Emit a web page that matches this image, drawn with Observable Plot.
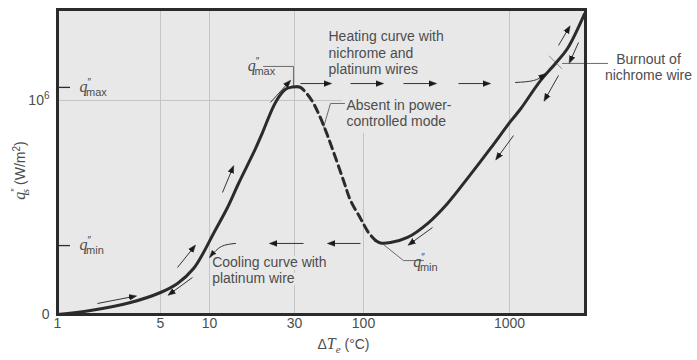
<!DOCTYPE html>
<html><head><meta charset="utf-8">
<script src="https://cdn.jsdelivr.net/npm/d3@7"></script>
<script src="https://cdn.jsdelivr.net/npm/@observablehq/plot@0.6"></script>
<style>
body{margin:0;background:#fff;}
#chart{width:697px;height:360px;}
</style></head><body><div id="chart"></div>
<script>
// ---- data (ΔTe in °C, q'' in units of 10^6 W/m²) ----
const xTicks = [1, 5, 10, 30, 100, 1000];
const xBreaks = [1, 5, 10, 30, 100, 1000, 3300];
const yTickValues = [0, 1];
const yTickNames = ["0", "10^6"];
const qRefValues = [1.061, 0.322];
const qRefNames = ["q″max", "q″min"];

const nucleateT = [1, 1.675, 3.13, 5, 6.36, 7.98, 9.19, 10.53, 12.62, 14.55, 18.12, 19.84, 23.47, 26.71, 29.23, 31.6];
const nucleateQ = [0, 0.0187, 0.056, 0.1028, 0.1449, 0.215, 0.2897, 0.3785, 0.5, 0.612, 0.775, 0.850, 0.991, 1.052, 1.063, 1.064];
const transitionT = [31.6, 33.3, 39.7, 45.6, 53.4, 70.5, 79.7, 94.9, 108.2, 120.9];
const transitionQ = [1.064, 1.061, 1.009, 0.939, 0.836, 0.626, 0.533, 0.449, 0.383, 0.346];
const filmT = [120.9, 130.7, 153, 200.2, 274.4, 376.2, 515.6, 741, 1016, 1189, 1627, 2060, 2487, 3250];
const filmQ = [0.346, 0.334, 0.336, 0.360, 0.425, 0.519, 0.636, 0.776, 0.902, 0.960, 1.093, 1.173, 1.243, 1.405];

// straight arrows: [T1, q1, T2, q2]
const straightArrows = [
  [1.868, 0.0514, 3.28, 0.0841],
  [6.36, 0.2196, 7.98, 0.313],
  [11.83, 0.570, 13.46, 0.682],
  [22.0, 0.991, 27.8, 1.084],
  [33.3, 1.079, 54.3, 1.079],
  [79.7, 1.079, 130.7, 1.079],
  [187.9, 1.079, 301.6, 1.079],
  [447.4, 1.079, 707, 1.079],
  [2160, 1.257, 2527, 1.336],
  [2956, 1.271, 2607, 1.187],
  [2160, 1.117, 1761, 1.009],
  [1065, 0.836, 828, 0.734],
  [297, 0.4065, 210, 0.332],
  [94.9, 0.332, 56.2, 0.332],
  [35.1, 0.332, 22.57, 0.332],
  [7.86, 0.1729, 5.76, 0.0981]
];
// curved arrows: id, T, q
const curvedArrowId = ["cool", "cool", "cool", "heat", "heat", "heat"];
const curvedArrowT = [14.0, 11.68, 10.26, 1099, 1458, 1706];
const curvedArrowQ = [0.332, 0.318, 0.276, 1.084, 1.093, 1.117];

// leader lines: id, T, q
const leaderId = ["max", "max", "max", "abs", "abs", "abs", "min", "min", "min", "burn", "burn"];
const leaderT = [20.1, 29.6, 29.6, 71.8, 56.2, 49.8, 137, 187.9, 257.6, 2299, 4665];
const leaderQ = [1.159, 1.159, 1.064, 0.986, 0.986, 0.874, 0.327, 0.252, 0.252, 1.173, 1.173];

const burnoutPoint = [[2060, 1.178]];

// annotation texts
const notes = [
  {text: "Heating curve with\nnichrome and\nplatinum wires", T: 54.3, q: 1.329},
  {text: "Absent in power-\ncontrolled mode", T: 74.3, q: 1.011},
  {text: "Cooling curve with\nplatinum wire", T: 10.35, q: 0.2776}
];
const burnoutNote = [{text: "Burnout of\nnichrome wire", T: 8876, q: 1.226}];
const qNotes = [
  {text: "q″max", T: 19.58, q: 1.159, anchor: "end"},
  {text: "q″min", T: 265.8, q: 0.243, anchor: "start"}
];

// ---- build ----
const M = 1e6;
const pts = (T, Q) => T.map((t, i) => ({T: t, q: Q[i] * M}));
const nucleate = pts(nucleateT, nucleateQ);
const transition = pts(transitionT, transitionQ);
const film = pts(filmT, filmQ);
const curved = curvedArrowT.map((t, i) => ({id: curvedArrowId[i], T: t, q: curvedArrowQ[i] * M}));
const leaders = leaderT.map((t, i) => ({id: leaderId[i], T: t, q: leaderQ[i] * M}));
const qRefs = qRefValues.map((v, i) => ({q: v * M, name: qRefNames[i]}));
const yq = d => d.q * M;

const BG = "#e8e8e8";
const INK = "#2b2b2b";
const TXT = "#4d4d4d";

const plot = Plot.plot({
  width: 697, height: 360,
  marginLeft: 57, marginRight: 112, marginTop: 9, marginBottom: 46,
  style: {fontFamily: "'Liberation Sans', Arial, sans-serif", color: TXT, background: "#fff"},
  x: {type: "log", domain: xBreaks, range: [57, 160, 209, 294, 363, 509, 585], axis: null},
  y: {domain: [0, 1.425 * M], axis: null},
  marks: [
    Plot.frame({fill: BG, stroke: null}),
    Plot.ruleX([5, 10, 30, 1000], {stroke: "#c4c4c4", strokeWidth: 1}),
    Plot.ruleX([100], {y1: 0, y2: 0.846 * M, stroke: "#c4c4c4", strokeWidth: 1}),
    Plot.ruleY([1 * M], {x1: 1, x2: 69, stroke: "#c4c4c4", strokeWidth: 1}),
    Plot.ruleY(qRefs, {y: "q", x1: 1, x2: 1.225, stroke: INK, strokeWidth: 1.3}),
    Plot.text(qRefs, {y: "q", x: 1.41, text: "name", textAnchor: "start", fill: TXT, fontSize: 14}),
    Plot.line(leaders, {x: "T", y: "q", z: "id", stroke: "#6a6a6a", strokeWidth: 1}),
    Plot.dot(burnoutPoint, {x: d => d[0], y: d => d[1] * M, symbol: "times", r: 6, stroke: "#8a8a8a", strokeWidth: 1}),
    Plot.line(nucleate, {x: "T", y: "q", stroke: INK, strokeWidth: 3, curve: "catmull-rom"}),
    Plot.line(transition, {x: "T", y: "q", stroke: INK, strokeWidth: 3, strokeDasharray: "8,5", curve: "catmull-rom"}),
    Plot.line(film, {x: "T", y: "q", stroke: INK, strokeWidth: 3, curve: "catmull-rom"}),
    Plot.link(straightArrows, {x1: d => d[0], y1: d => d[1] * M, x2: d => d[2], y2: d => d[3] * M, stroke: "#333", strokeWidth: 1, markerEnd: "arrow"}),
    Plot.line(curved, {x: "T", y: "q", z: "id", stroke: "#333", strokeWidth: 1, curve: "natural", markerEnd: "arrow"}),
    Plot.text(notes, {x: "T", y: yq, text: "text", textAnchor: "start", lineAnchor: "top", lineHeight: 1.15, fontSize: 14, fill: TXT, stroke: BG, strokeWidth: 6}),
    Plot.text(burnoutNote, {x: "T", y: yq, text: "text", textAnchor: "middle", lineAnchor: "top", lineHeight: 1.15, fontSize: 14, fill: TXT}),
    Plot.text(qNotes, {x: "T", y: yq, text: "text", textAnchor: d => d.anchor, fontSize: 14, fill: TXT}),
    Plot.frame({stroke: INK, strokeWidth: 3}),
    Plot.text(xTicks, {x: d => d, frameAnchor: "bottom", dy: 13, text: d => String(d), textAnchor: "middle", fontSize: 14, fill: TXT}),
    Plot.text(yTickValues, {y: d => d * M, frameAnchor: "left", dx: -8, text: (d, i) => yTickNames[i], textAnchor: "end", fontSize: 14, fill: TXT}),
    Plot.text(["q″s (W/m2)"], {frameAnchor: "left", dx: -37, dy: 8.5, rotate: -90, textAnchor: "middle", fontSize: 14, fill: TXT}),
    Plot.text(["ΔTe (°C)"], {frameAnchor: "bottom", dx: 22, dy: 34, textAnchor: "middle", fontSize: 14, fill: TXT})
  ]
});

document.getElementById("chart").appendChild(plot);

// ---- typographic post-processing (sub/superscripts) ----
const SERIF = "'Liberation Serif', 'DejaVu Serif', serif";
function qLabel(el, sub, subItalic) {
  el.textContent = "";
  const t = d3.select(el);
  t.append("tspan").attr("font-family", SERIF).attr("font-style", "italic").attr("font-size", "16px").text("q");
  t.append("tspan").attr("font-size", "10px").attr("dy", "-6").text("″");
  const s = t.append("tspan").attr("font-size", "11px").attr("dx", "-5").attr("dy", "10").text(sub);
  if (subItalic) s.attr("font-family", SERIF).attr("font-style", "italic");
  return t;
}
d3.select(plot).selectAll("text").each(function () {
  const c = this.textContent;
  if (c === "q″max") qLabel(this, "max");
  else if (c === "q″min") qLabel(this, "min");
  else if (c === "q″s (W/m2)") {
    const t = qLabel(this, "s", true);
    t.append("tspan").attr("font-size", "14px").attr("dy", "-4").text(" (W/m");
    t.append("tspan").attr("font-size", "10px").attr("dy", "-5").text("2");
    t.append("tspan").attr("font-size", "14px").attr("dy", "5").text(")");
  } else if (c === "10^6") {
    this.textContent = "";
    const t = d3.select(this);
    t.append("tspan").text("10");
    t.append("tspan").attr("font-size", "10px").attr("dy", "-6").text("6");
  } else if (c === "ΔTe (°C)") {
    this.textContent = "";
    const t = d3.select(this);
    t.append("tspan").text("Δ");
    t.append("tspan").attr("font-family", SERIF).attr("font-style", "italic").attr("font-size", "16px").text("T");
    t.append("tspan").attr("font-family", SERIF).attr("font-style", "italic").attr("font-size", "11px").attr("dy", "4").text("e");
    t.append("tspan").attr("dy", "-4").text(" (°C)");
  }
});
// filled arrowheads
d3.select(plot).selectAll("marker").each(function () {
  const m = d3.select(this);
  m.attr("markerWidth", 9).attr("markerHeight", 9).attr("fill", "#1a1a1a").attr("stroke", "#1a1a1a").attr("stroke-width", 0.5);
  m.select("path").attr("d", "M-5,-3.2L3.5,0L-5,3.2Z");
});
</script>
</body></html>
